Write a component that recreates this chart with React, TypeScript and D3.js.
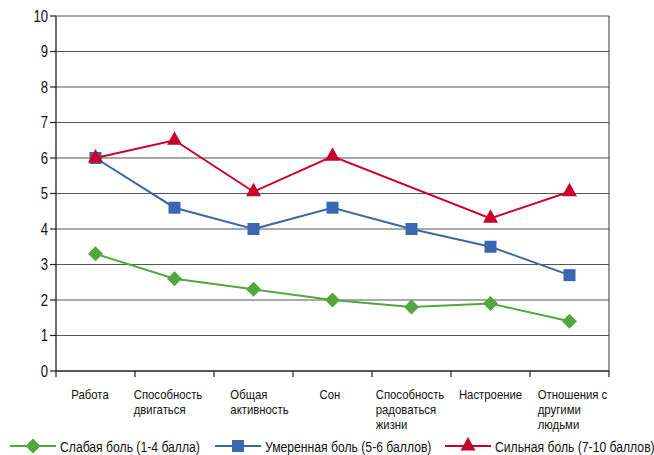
import React, { useEffect, useRef } from "react";
import * as d3 from "d3";

const categories: string[][] = [
  ["Работа"],
  ["Способность", "двигаться"],
  ["Общая", "активность"],
  ["Сон"],
  ["Способность", "радоваться", "жизни"],
  ["Настроение"],
  ["Отношения с", "другими", "людьми"],
];
const mild: (number | null)[] = [3.3, 2.6, 2.3, 2.0, 1.8, 1.9, 1.4];
const moderate: (number | null)[] = [6.0, 4.6, 4.0, 4.6, 4.0, 3.5, 2.7];
const severe: (number | null)[] = [6.0, 6.5, 5.05, 6.05, null, 4.3, 5.05];
const seriesNames = ["Слабая боль (1-4 балла)", "Умеренная боль (5-6 баллов)", "Сильная боль (7-10 баллов)"];
const yTicks = [0, 1, 2, 3, 4, 5, 6, 7, 8, 9, 10];
const labelNudge = [-5.5, -6.5, 6, -2.5, -1.5, 0, 3];

const W = 654, H = 455;
const FONT = "'Liberation Sans', Arial, sans-serif";

export default function App() {
  const ref = useRef<SVGSVGElement>(null);
  useEffect(() => {
    const svg = d3.select(ref.current);
    svg.selectAll("*").remove();
    const left = 56, right = 609, top = 16, bottom = 371;
    const x = d3.scaleBand<number>().domain(d3.range(categories.length)).range([left, right]);
    const y = d3.scaleLinear().domain([0, 10]).range([bottom, top]);
    const g = svg.append("g");

    const narrowText = (parent: any, tx: number, ty: number, str: string, size: number, sx: number, anchor = "start", dy = "0") =>
      parent.append("text")
        .attr("transform", `translate(${tx},${ty}) scale(${sx},1)`)
        .attr("text-anchor", anchor).attr("dy", dy)
        .attr("font-family", FONT).attr("font-size", size).attr("fill", "#111").text(str);

    g.selectAll("line.grid").data(yTicks.filter(t => t > 0)).join("line")
      .attr("x1", left).attr("x2", right)
      .attr("y1", d => y(d)).attr("y2", d => y(d))
      .attr("stroke", "#555").attr("stroke-width", 1.2);
    g.append("line").attr("x1", right).attr("x2", right).attr("y1", top).attr("y2", bottom)
      .attr("stroke", "#555").attr("stroke-width", 1.2);
    g.append("line").attr("x1", left).attr("x2", left).attr("y1", top).attr("y2", bottom + 1)
      .attr("stroke", "#222").attr("stroke-width", 1.3);
    g.append("line").attr("x1", left).attr("x2", right).attr("y1", bottom).attr("y2", bottom)
      .attr("stroke", "#222").attr("stroke-width", 1.3);
    g.selectAll("line.yt").data(yTicks).join("line")
      .attr("x1", left - 6).attr("x2", left).attr("y1", d => y(d)).attr("y2", d => y(d))
      .attr("stroke", "#222").attr("stroke-width", 1.2);
    yTicks.forEach(t => narrowText(g, left - 8, y(t), String(t), 16, 0.82, "end", "0.36em"));

    const bounds = d3.range(categories.length + 1).map(i => left + i * x.step());
    g.selectAll("line.xt").data(bounds).join("line")
      .attr("x1", d => d).attr("x2", d => d).attr("y1", bottom).attr("y2", bottom + 6)
      .attr("stroke", "#222").attr("stroke-width", 1.2);

    const LSX = 0.86;
    categories.forEach((lines, i) => {
      const cx = (x(i) as number) + x.bandwidth() / 2 + labelNudge[i];
      const texts = lines.map((ln, j) => narrowText(g, 0, 399 + j * 15, ln, 13.2, LSX));
      const maxW = (d3.max(texts, (t: any) => (t.node() as SVGTextElement).getComputedTextLength()) || 0) * LSX;
      texts.forEach((t: any, j: number) =>
        t.attr("transform", `translate(${cx - maxW / 2},${399 + j * 15}) scale(${LSX},1)`));
    });

    const colors = ["#52a83c", "#3b67b1", "#c8002e"];
    const datasets = [mild, moderate, severe];
    const line = d3.line<[number, number]>().x(d => d[0]).y(d => d[1]);

    const drawMarker = (sel: any, k: number, px: number, py: number) => {
      if (k === 0) {
        const r = 7.5;
        sel.append("path").attr("d", `M${px},${py - r}L${px + r},${py}L${px},${py + r}L${px - r},${py}Z`).attr("fill", colors[k]);
      } else if (k === 1) {
        sel.append("rect").attr("x", px - 6).attr("y", py - 6).attr("width", 12).attr("height", 12).attr("fill", colors[k]);
      } else {
        sel.append("path").attr("d", `M${px},${py - 9}L${px + 7.5},${py + 4.5}L${px - 7.5},${py + 4.5}Z`).attr("fill", colors[k]);
      }
    };

    datasets.forEach((data, k) => {
      const pts: [number, number][] = [];
      data.forEach((v, i) => {
        if (v !== null) pts.push([(x(i) as number) + x.bandwidth() / 2, y(v)]);
      });
      g.append("path").attr("d", line(pts)).attr("fill", "none").attr("stroke", colors[k]).attr("stroke-width", 2);
      pts.forEach(p => drawMarker(g, k, p[0], p[1]));
    });

    const legX = [10, 215, 445];
    seriesNames.forEach((name, k) => {
      const ly = 446;
      g.append("line").attr("x1", legX[k]).attr("x2", legX[k] + 46).attr("y1", ly).attr("y2", ly)
        .attr("stroke", colors[k]).attr("stroke-width", 2);
      drawMarker(g, k, legX[k] + 23, ly);
      narrowText(g, legX[k] + 50, ly + 1, name, 14, 0.87, "start", "0.36em");
    });
  }, []);
  return (
    <svg ref={ref} width={W} height={H} style={{ position: "absolute", left: 0, top: 0, background: "#fff" }} />
  );
}
